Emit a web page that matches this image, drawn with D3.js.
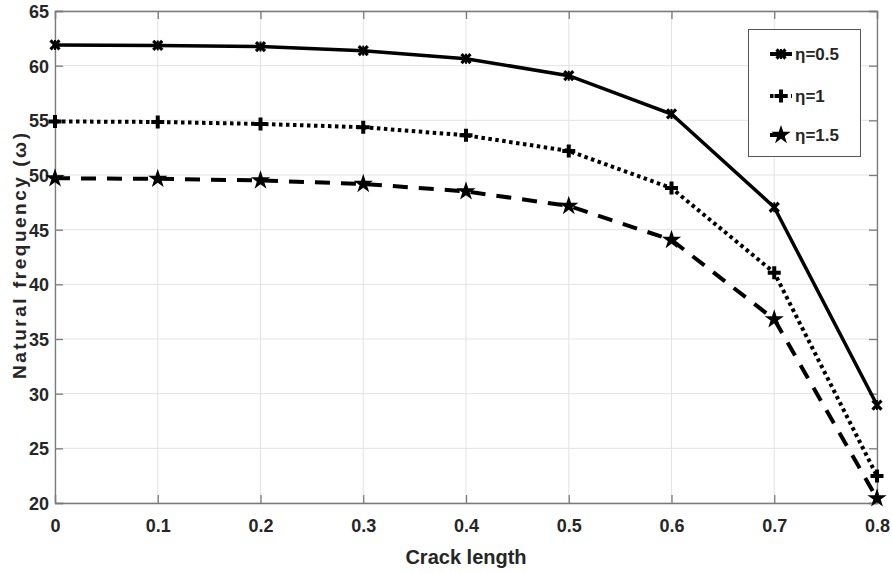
<!DOCTYPE html>
<html><head><meta charset="utf-8">
<script src="https://cdn.jsdelivr.net/npm/d3@7"></script>
<style>body{margin:0;background:#fff}svg{display:block}</style>
</head><body><div id="chart"></div>
<script>
const crackLength = [0, 0.1, 0.2, 0.3, 0.4, 0.5, 0.6, 0.7, 0.8];
const eta05 = [61.9, 61.85, 61.75, 61.37, 60.64, 59.08, 55.58, 47.05, 28.96];
const eta1  = [54.9, 54.85, 54.67, 54.37, 53.63, 52.2, 48.8, 41.07, 22.47];
const eta15 = [49.7, 49.65, 49.5, 49.18, 48.5, 47.17, 44.06, 36.8, 20.42];
const seriesNames = ["η=0.5", "η=1", "η=1.5"];
const xTicks = [0, 0.1, 0.2, 0.3, 0.4, 0.5, 0.6, 0.7, 0.8];
const yTicks = [20, 25, 30, 35, 40, 45, 50, 55, 60, 65];

const W = 892, H = 573;
const m = {l: 55, r: 15, t: 11, b: 70};
const svg = d3.select("#chart").append("svg").attr("width", W).attr("height", H);
const x = d3.scaleLinear().domain([0, 0.8]).range([m.l, W - m.r]);
const y = d3.scaleLinear().domain([20, 65]).range([H - m.b, m.t]);
const font = "'Liberation Sans', Arial, sans-serif";
const txt = "#262626";

// grid
svg.append("g").selectAll("line").data(xTicks).join("line")
  .attr("x1", d => x(d)).attr("x2", d => x(d)).attr("y1", y(20)).attr("y2", y(65))
  .attr("stroke", "#e3e3e3").attr("stroke-width", 1);
svg.append("g").selectAll("line").data(yTicks).join("line")
  .attr("y1", d => y(d)).attr("y2", d => y(d)).attr("x1", x(0)).attr("x2", x(0.8))
  .attr("stroke", "#e3e3e3").attr("stroke-width", 1);

// axes
const ax = "#7a7a7a";
const gB = svg.append("g").attr("transform", `translate(0,${y(20)})`)
  .call(d3.axisBottom(x).tickValues(xTicks).tickSize(-8).tickPadding(16).tickFormat(d3.format("")));
const gT = svg.append("g").attr("transform", `translate(0,${y(65)})`)
  .call(d3.axisTop(x).tickValues(xTicks).tickSize(-8).tickFormat(""));
const gL = svg.append("g").attr("transform", `translate(${x(0)},0)`)
  .call(d3.axisLeft(y).tickValues(yTicks).tickSize(-8).tickPadding(6));
const gR = svg.append("g").attr("transform", `translate(${x(0.8)},0)`)
  .call(d3.axisRight(y).tickValues(yTicks).tickSize(-8).tickFormat(""));
[gB, gT, gL, gR].forEach(g => {
  g.select(".domain").attr("stroke", ax).attr("stroke-width", 1.3);
  g.selectAll(".tick line").attr("stroke", ax).attr("stroke-width", 1.3);
  g.selectAll("text").attr("font-family", font).attr("font-weight", "bold")
    .attr("font-size", 18).attr("fill", txt);
});
gB.selectAll(".tick text").attr("dy", "0.71em");
gL.selectAll(".tick text").attr("dy", "0.36em");
gB.selectAll(".tick").filter(d => d === 0.8).select("line").attr("stroke", "none");

// axis labels
svg.append("text").attr("x", (x(0) + x(0.8)) / 2).attr("y", 564)
  .attr("text-anchor", "middle").attr("font-family", font).attr("font-weight", "bold")
  .attr("font-size", 20).attr("fill", txt).text("Crack length");
svg.append("text").attr("transform", "translate(26,256) rotate(-90)")
  .attr("text-anchor", "middle").attr("font-family", font).attr("font-weight", "bold")
  .attr("font-size", 19).attr("fill", txt)
  .attr("textLength", 246).attr("lengthAdjust", "spacing")
  .text("Natural frequency (ω)");

// series
const series = [
  {name: seriesNames[0], values: eta05, dash: null, marker: "x"},
  {name: seriesNames[1], values: eta1, dash: "3.5,3.5", marker: "plus"},
  {name: seriesNames[2], values: eta15, dash: "15,11", marker: "star"}
];
const line = d3.line().x((d, i) => x(crackLength[i])).y(d => y(d));
const starPath = d3.symbol().type(d3.symbolStar).size(115)();
function drawMarker(g, type, cx, cy) {
  if (type === "x") {
    const s = 4.5;
    g.append("path").attr("d", `M${cx-s},${cy-s}L${cx+s},${cy+s}M${cx-s},${cy+s}L${cx+s},${cy-s}`)
      .attr("stroke", "#000").attr("stroke-width", 3.2).attr("fill", "none");
    g.append("path").attr("d", `M${cx},${cy-5}L${cx},${cy+5}`)
      .attr("stroke", "#000").attr("stroke-width", 2).attr("fill", "none");
  } else if (type === "plus") {
    const s = 6.5;
    g.append("path").attr("d", `M${cx-s},${cy}L${cx+s},${cy}M${cx},${cy-s}L${cx},${cy+s}`)
      .attr("stroke", "#000").attr("stroke-width", 4).attr("fill", "none");
  } else {
    g.append("path").attr("d", starPath).attr("transform", `translate(${cx},${cy})`)
      .attr("fill", "#000");
  }
}
series.forEach(s => {
  svg.append("path").datum(s.values).attr("d", line).attr("fill", "none")
    .attr("stroke", "#000").attr("stroke-width", s.marker === "x" ? 3.5 : 4)
    .attr("stroke-dasharray", s.dash);
  const g = svg.append("g");
  s.values.forEach((v, i) => drawMarker(g, s.marker, x(crackLength[i]), y(v)));
});

// legend
const lg = svg.append("g");
lg.append("rect").attr("x", 748.5).attr("y", 29.5).attr("width", 112).attr("height", 127)
  .attr("fill", "#fff").attr("stroke", "#555").attr("stroke-width", 1);
const ly = [54, 96, 135];
series.forEach((s, i) => {
  lg.append("line").attr("x1", 770).attr("x2", 792).attr("y1", ly[i]).attr("y2", ly[i])
    .attr("stroke", "#000").attr("stroke-width", 4).attr("stroke-dasharray", s.dash ? (i === 1 ? "3.5,3.5" : "15,11") : null);
  drawMarker(lg, s.marker, 781, ly[i]);
  lg.append("text").attr("x", 795).attr("y", ly[i]).attr("dy", "0.36em")
    .attr("font-family", font).attr("font-weight", "bold").attr("font-size", 17)
    .attr("fill", txt).text(s.name);
});
</script></body></html>
